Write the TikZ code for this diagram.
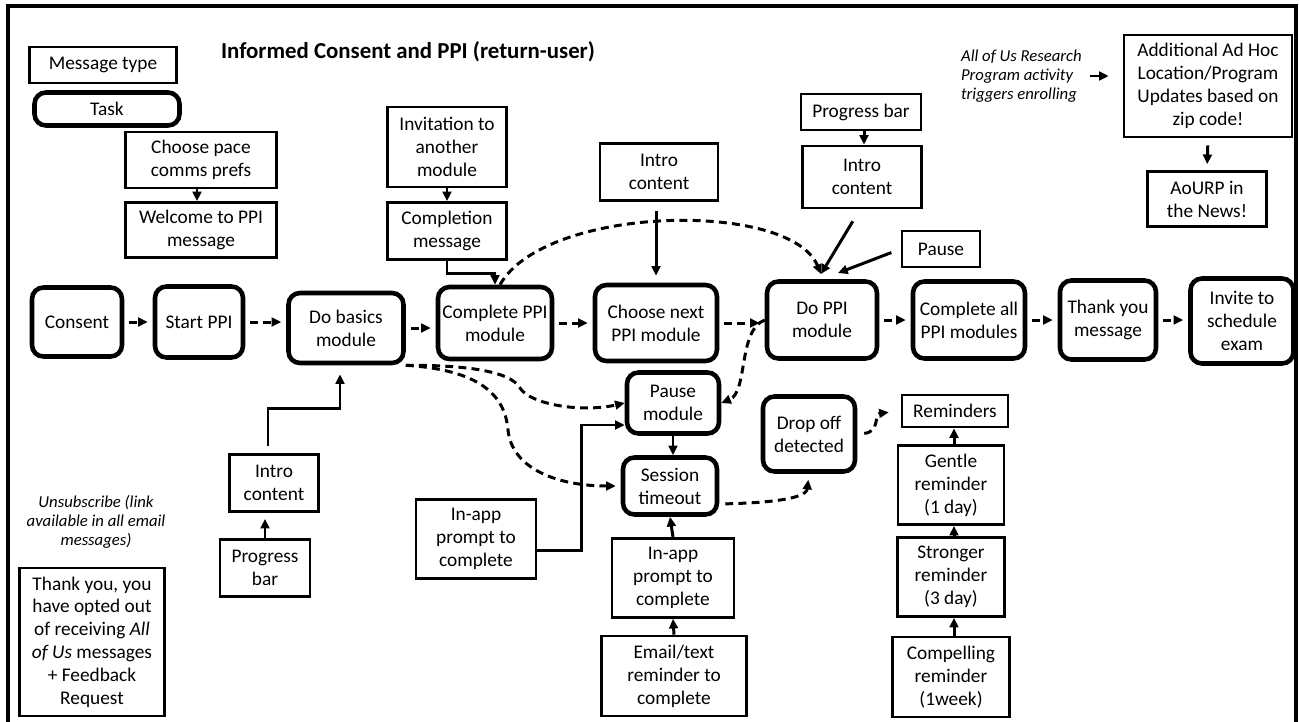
\documentclass[tikz,border=0pt]{standalone}
\usepackage{fontspec}
\setmainfont{Carlito}
\usetikzlibrary{arrows.meta,calc}

\begin{document}
\begin{tikzpicture}[x=0.02cm,y=-0.02cm,
  every node/.style={font=\fontsize{11}{13}\selectfont, align=center, inner sep=1pt},
  msg/.style={draw, line width=1.5pt, rectangle},
  task/.style={draw, line width=2.6pt, rounded corners=6.5pt},
  note/.style={font=\fontsize{9.5}{10.8}\selectfont\itshape},
  arr/.style={line width=1.7pt, -{Triangle[length=5.5pt,width=5pt]}},
  darr/.style={arr, dash pattern=on 4.5pt off 3pt},
]
\useasboundingbox (0,0) rectangle (1299,721);
\clip (0,0) rectangle (1299,721);
\draw[line width=2pt] (8,6) rectangle (1296,760);

% title
\node[font=\fontsize{13}{15}\selectfont\bfseries] (title) at (408,52) {Informed Consent and PPI (return-user)};

% legend
\node[msg, minimum width=2.94cm, minimum height=0.72cm] (msgtype) at (103,65) {Message type};
\node[task, minimum width=2.90cm, minimum height=0.66cm] (tasklg) at (107,109) {Task};

% upper messages
\node[msg, minimum width=3.02cm, minimum height=1.12cm] (pace) at (201,160) {Choose pace\\comms prefs};
\node[msg, minimum width=3.02cm, minimum height=1.10cm] (welcome) at (201,230) {Welcome to PPI\\message};
\node[msg, minimum width=2.38cm, minimum height=1.60cm] (invite) at (447,147) {Invitation to\\another\\module};
\node[msg, minimum width=2.38cm, minimum height=1.14cm] (complmsg) at (447,231) {Completion\\message};
\node[msg, minimum width=2.36cm, minimum height=1.14cm] (introA) at (659,172) {Intro\\content};
\node[msg, minimum width=2.40cm, minimum height=0.72cm] (progA) at (861,112) {Progress bar};
\node[msg, minimum width=2.38cm, minimum height=1.24cm] (introB) at (862,177) {Intro\\content};
\node[msg, minimum width=1.56cm, minimum height=0.72cm] (pausemsg) at (941,249) {Pause};
\node[msg, minimum width=3.36cm, minimum height=2.04cm] (additional) at (1208,86) {Additional Ad Hoc\\Location/Program\\Updates based on\\zip code!};
\node[msg, minimum width=2.38cm, minimum height=1.10cm] (aourp) at (1207,199) {AoURP in\\the News!};
\node[note, anchor=west, align=left] (aoustext) at (959,76) {All of Us Research\\Program activity\\triggers enrolling};

% main task row
\node[task, minimum width=1.80cm, minimum height=1.38cm] (consent) at (77,322) {Consent};
\node[task, minimum width=1.76cm, minimum height=1.42cm] (start) at (199,322) {Start PPI};
\node[task, minimum width=2.30cm, minimum height=1.40cm] (basics) at (346,328) {Do basics\\module};
\node[task, minimum width=2.28cm, minimum height=1.44cm] (complete) at (495,323) {Complete PPI\\module};
\node[task, minimum width=2.44cm, minimum height=1.52cm] (choose) at (656,323) {Choose next\\PPI module};
\node[task, minimum width=2.20cm, minimum height=1.54cm] (doppi) at (822,320) {Do PPI\\module};
\node[task, minimum width=2.24cm, minimum height=1.54cm] (compall) at (969,320) {Complete all\\PPI modules};
\node[task, minimum width=1.92cm, minimum height=1.58cm] (thanks) at (1108,320) {Thank you\\message};
\node[task, minimum width=2.06cm, minimum height=1.70cm] (exam) at (1242,321) {Invite to\\schedule\\exam};

% lower tasks
\node[task, minimum width=1.84cm, minimum height=1.22cm] (pausemod) at (673,403) {Pause\\module};
\node[task, minimum width=1.88cm, minimum height=1.14cm] (session) at (670,486) {Session\\timeout};
\node[task, minimum width=1.84cm, minimum height=1.50cm] (dropoff) at (809,434) {Drop off\\detected};

% lower messages
\node[msg, minimum width=1.78cm, minimum height=1.14cm] (introC) at (274,483) {Intro\\content};
\node[msg, minimum width=1.80cm, minimum height=1.14cm] (progC) at (265,568) {Progress\\bar};
\node[msg, minimum width=2.40cm, minimum height=1.58cm] (inappL) at (476,539) {In-app\\prompt to\\complete};
\node[msg, minimum width=2.44cm, minimum height=1.58cm] (inappM) at (673,578) {In-app\\prompt to\\complete};
\node[msg, minimum width=2.90cm, minimum height=1.60cm] (email) at (674,676) {Email/text\\reminder to\\complete};
\node[msg, minimum width=2.12cm, minimum height=0.64cm] (reminders) at (955,411) {Reminders};
\node[msg, minimum width=2.12cm, minimum height=1.58cm] (gentle) at (951,485) {Gentle\\reminder\\(1 day)};
\node[msg, minimum width=2.14cm, minimum height=1.58cm] (stronger) at (951,577) {Stronger\\reminder\\(3 day)};
\node[msg, minimum width=2.34cm, minimum height=1.60cm] (compelling) at (951,677) {Compelling\\reminder\\(1week)};

% unsubscribe
\node[note] (unsub) at (96,522) {Unsubscribe (link\\available in all email\\messages)};
\node[msg, minimum width=2.90cm, minimum height=2.96cm] (optout) at (92,642) {Thank you, you\\have opted out\\of receiving \textit{All}\\\textit{of Us} messages\\+ Feedback\\Request};

% free ends above Do PPI
\coordinate (dopinA) at (821,274);
\coordinate (dopinB) at (838,273);

% solid connectors
\draw[arr] ([xshift=-0.08cm]pace.south) -- ([xshift=-0.08cm]welcome.north);
\draw[arr] (invite.south) -- (complmsg.north);
\draw[arr] (complmsg.south) -- ++(0,13) -| (complete.north);
\draw[arr, shorten <=0.18cm, shorten >=0.14cm] ([xshift=-0.06cm]introA.south) -- ([xshift=-0.06cm]introA.south |- choose.north);
\draw[arr] ([xshift=0.06cm]progA.south) -- ([xshift=0.06cm]progA.south |- introB.north);
\draw[arr, shorten <=0.28cm] ([xshift=-0.04cm]introB.south) -- (dopinA);
\draw[arr, shorten <=0.2cm] (pausemsg.west) -- (dopinB);
\draw[arr, shorten <=0.14cm, shorten >=0.12cm] (additional.south) -- (aourp.north);
\draw[arr, shorten <=0.12cm, shorten >=0.28cm] (aoustext.east) -- (aoustext.east -| additional.west);
\draw[arr, shorten >=0.12cm] (progC.north) -- (progC.north |- introC.south);
\draw[arr, shorten <=0.14cm, shorten >=0.18cm] ([xshift=-0.12cm]introC.north) -- ++(0,-45) -| ([xshift=-0.12cm]basics.south);
\draw[arr] (pausemod.south) -- (pausemod.south |- session.north);
\draw[arr] ([yshift=-0.22cm]inappL.east) -- ++(44,0) |- ([yshift=-0.44cm]pausemod.west);
\draw[arr] (inappM.north) -- (session.south);
\draw[arr] (email.north) -- (inappM.south);
\draw[arr] ([xshift=0.06cm]gentle.north) -- ([xshift=0.06cm]gentle.north |- reminders.south);
\draw[arr] ([xshift=0.06cm]stronger.north) -- ([xshift=0.06cm]stronger.north |- gentle.south);
\draw[arr] ([xshift=0.06cm]compelling.north) -- ([xshift=0.06cm]compelling.north |- stronger.south);

% dashed flow along the main row
\foreach \a/\b in {consent/start, start/basics, basics/complete, complete/choose, choose/doppi, doppi/compall, compall/thanks, thanks/exam}
  \draw[darr, shorten <=0.1cm, shorten >=0.1cm] (\a.east) -- (\a.east -| \b.west);

% dashed branches
\draw[darr] ([xshift=0.1cm]complete.north) .. controls (545,205) and (790,200) .. (dopinA);
\draw[darr] (doppi.west) .. controls (738,330) and (748,392) .. (pausemod.east);
\draw[darr] (basics.south east) .. controls (460,365) and (510,370) .. (520,388)
  .. controls (530,404) and (580,413) .. (pausemod.west);
\draw[darr, shorten >=0.1cm] (basics.south east) .. controls (480,370) and (505,395) .. (508,430)
  .. controls (512,470) and (560,486) .. (session.west);
\draw[darr, shorten <=0.12cm, shorten >=0.12cm] ([yshift=-0.36cm]session.east) .. controls (760,503) and (806,500) .. (dropoff.south);
\draw[darr, shorten <=0.14cm, shorten >=0.24cm] (dropoff.east) .. controls (880,432) and (874,414) .. (reminders.west);
\end{tikzpicture}
\end{document}
